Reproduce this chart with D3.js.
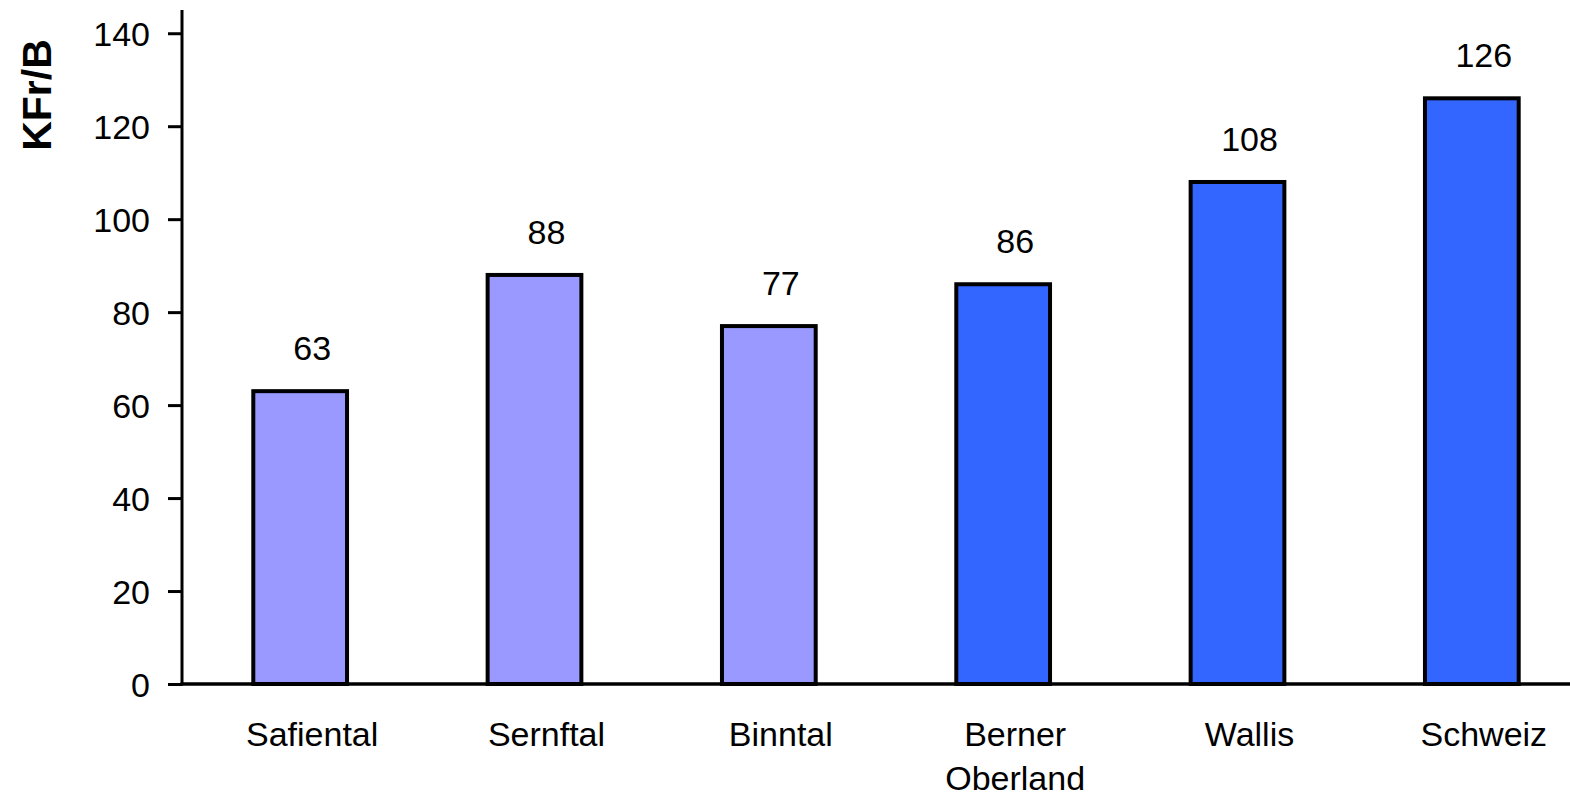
<!DOCTYPE html>
<html><head><meta charset="utf-8">
<script src="https://cdn.jsdelivr.net/npm/d3@7"></script>
<style>body{margin:0;background:#fff}svg{display:block}text{font-family:"Liberation Sans",Arial,sans-serif}</style>
</head><body>
<svg id="c" width="1570" height="798"></svg>
<script>
const categories = [["Safiental"],["Sernftal"],["Binntal"],["Berner","Oberland"],["Wallis"],["Schweiz"]];
const values = [63, 88, 77, 86, 108, 126];
const colors = ["#9999FF","#9999FF","#9999FF","#3366FF","#3366FF","#3366FF"];
const yTicks = [0,20,40,60,80,100,120,140];
const yTitle = "KFr/B";

const svg = d3.select("#c");
const x = d3.scaleBand().domain(d3.range(categories.length)).range([183,1589]).paddingInner(0.6).paddingOuter(0.3);
const y = d3.scaleLinear().domain([0,145]).range([684,10]);
const labelShift = 12;

// bars
svg.selectAll("rect.bar").data(values).join("rect")
  .attr("x",(d,i)=>x(i)).attr("width",x.bandwidth())
  .attr("y",d=>y(d)).attr("height",d=>y(0)-y(d))
  .attr("fill",(d,i)=>colors[i]).attr("stroke","#000").attr("stroke-width",4);

// value labels
svg.selectAll("text.val").data(values).join("text")
  .attr("x",(d,i)=>x(i)+x.bandwidth()/2+labelShift).attr("y",d=>y(d)-31)
  .attr("text-anchor","middle").attr("font-size",34).text(d=>d);

// y axis
const ya = svg.append("g").attr("transform","translate(182,0)")
  .call(d3.axisLeft(y).tickValues(yTicks).tickSize(14).tickPadding(18));
ya.select(".domain").remove();
ya.selectAll(".tick line").attr("stroke","#000").attr("stroke-width",3);
ya.selectAll(".tick text").attr("font-size",34).attr("fill","#000").attr("font-family","'Liberation Sans',Arial,sans-serif").attr("dy","0.36em");
svg.append("line").attr("x1",182).attr("x2",182).attr("y1",y(145)).attr("y2",y(0)+1.5).attr("stroke","#000").attr("stroke-width",3);
// x axis line
svg.append("line").attr("x1",180.5).attr("x2",1570).attr("y1",y(0)).attr("y2",y(0)).attr("stroke","#000").attr("stroke-width",3.5);

// category labels
svg.selectAll("text.cat").data(categories).join("text")
  .attr("text-anchor","middle").attr("font-size",34)
  .each(function(d,i){
    const t=d3.select(this);
    d.forEach((line,k)=>t.append("tspan").attr("x",x(i)+x.bandwidth()/2+labelShift).attr("y",746+k*44).text(line));
  });

// y title
svg.append("text").attr("transform","translate(51,95) rotate(-90)")
  .attr("text-anchor","middle").attr("font-size",41).attr("font-weight","bold").text(yTitle);
</script>
</body></html>
